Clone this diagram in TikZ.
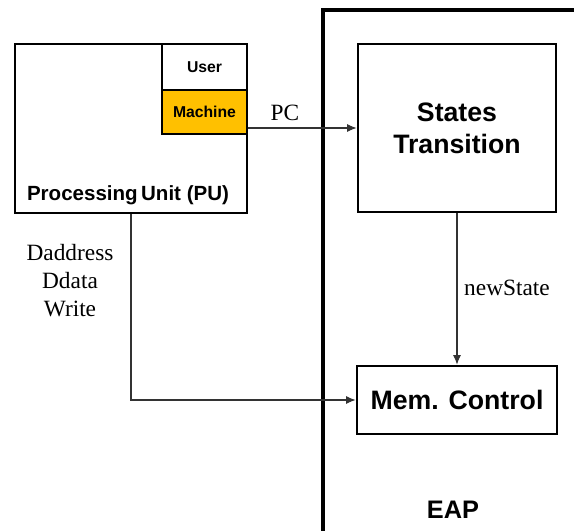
\documentclass[tikz,border=0pt]{standalone}
\usepackage{fontspec}
\setmainfont{Liberation Serif}
\setsansfont{Liberation Sans}
\usetikzlibrary{arrows.meta}
\definecolor{machineorange}{HTML}{FFC000}
\tikzset{
  box/.style={draw=black, line width=2.2pt, fill=white, inner sep=0pt, font=\sffamily\bfseries},
  conn/.style={draw=black!80, line width=0.8pt},
  arr/.style={conn, -{Latex[length=7pt,width=6pt]}},
  siglabel/.style={font=\fontsize{17.5}{21}\selectfont, align=center, inner sep=0pt},
}
\begin{document}
\begin{tikzpicture}[x=0.75pt, y=-0.75pt]
\useasboundingbox (0,0) rectangle (574,531);
% EAP container (clipped by picture edge)
\draw[line width=2.6pt] (580,10) -- (323,10) -- (323,540);
\node (eap) [font=\sffamily\bfseries\fontsize{19}{22}\selectfont, inner sep=0pt] at (453,510) {EAP};
% Processing unit
\node (pu) [box, minimum width=174pt, minimum height=126.75pt] at (131,128.5) {};
\node (putext) [font=\sffamily\bfseries\fontsize{15.4}{18}\selectfont, inner sep=0pt] at (128,195) {Processing\,Unit (PU)};
\node (user) [box, minimum width=63.75pt, minimum height=34.5pt, font=\sffamily\bfseries\fontsize{11.8}{14}\selectfont] at (204.5,67) {User};
\node (machine) [box, fill=machineorange, minimum width=63.75pt, minimum height=33pt, font=\sffamily\bfseries\fontsize{11.8}{14}\selectfont] at (204.5,112) {Machine};
% EAP internals
\node (states) [box, minimum width=148.5pt, minimum height=126pt, align=center, font=\sffamily\bfseries\fontsize{20}{24}\selectfont] at (457,128) {States\\Transition};
\node (mem) [box, minimum width=150pt, minimum height=51pt, font=\sffamily\bfseries\fontsize{20}{24}\selectfont] at (457,400) {Mem. Control};
% connectors
\draw[arr] (machine.east |- states.west) -- (states.west);
\node (pc) [siglabel] at (285,113) {PC};
\draw[arr] (states.south) -- (mem.north);
\node (ns) [siglabel] at (507,288) {newState};
\draw[arr] (pu.south) |- (mem.west);
\node (dsig) [siglabel] at (70,281) {Daddress\\Ddata\\Write};
\end{tikzpicture}
\end{document}
